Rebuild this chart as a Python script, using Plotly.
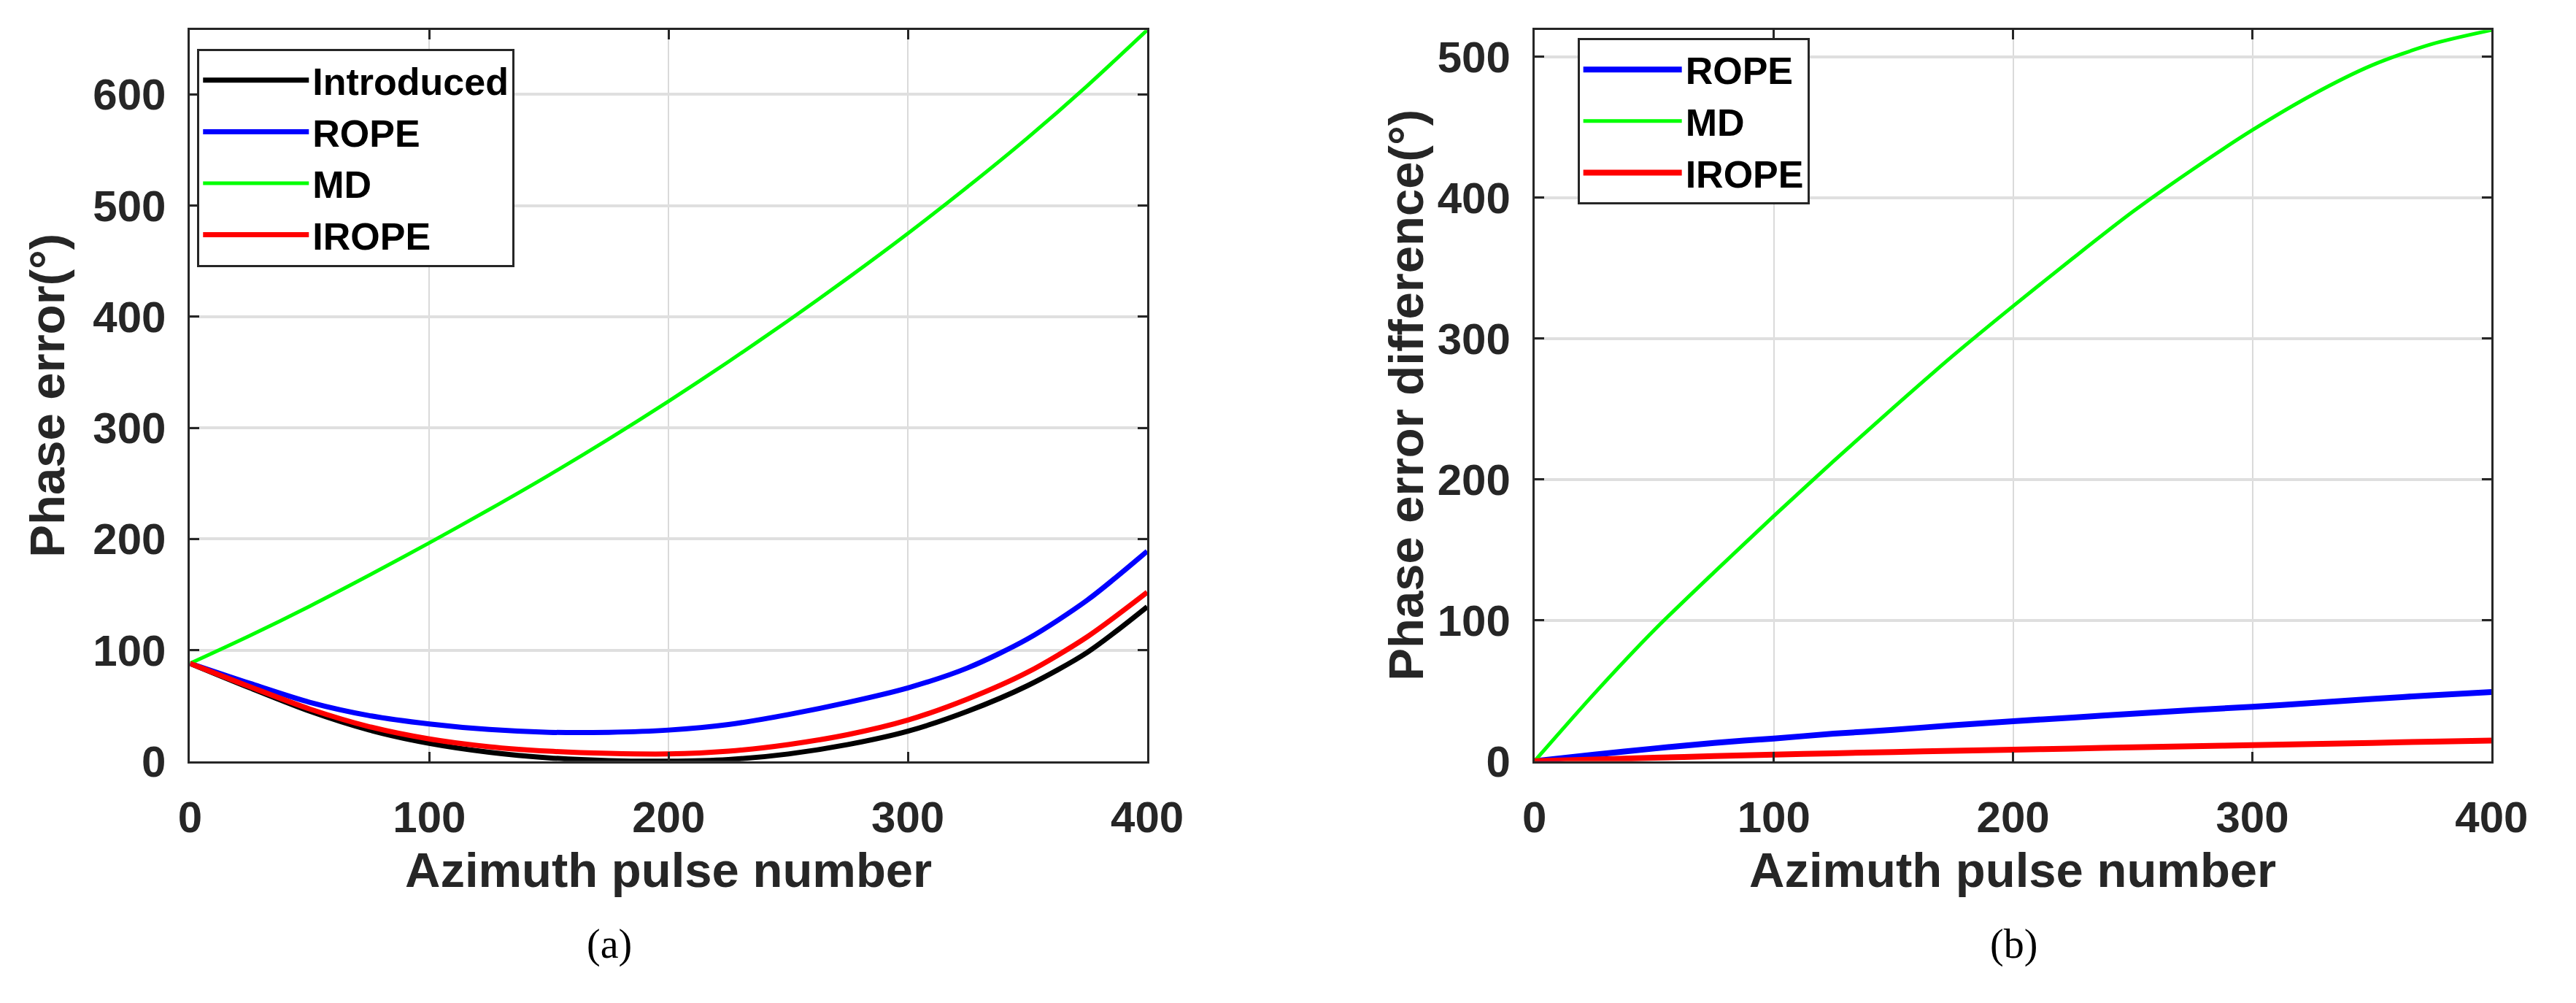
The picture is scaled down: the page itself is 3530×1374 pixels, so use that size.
import plotly.graph_objects as go

# ---------------- data ----------------
pulse = [0, 25, 50, 75, 100, 125, 150, 175, 200, 225, 250, 275, 300, 325, 350, 375, 400]

# (a) Phase error
a_introduced = [88, 66, 45, 28, 16, 8, 3, 0.5, 0, 1.5, 6.5, 15, 27, 45, 68, 98, 139]
a_rope = [88, 70, 53, 41, 33.5, 28.5, 26, 26, 28, 33, 42, 53, 66, 84, 110, 145, 189]
a_md = [88, 113, 139.5, 167.5, 196.5, 226.5, 257.5, 290, 324, 359.5, 396.5, 435, 475, 517, 561, 608, 658]
a_irope = [88, 67, 47, 31, 20, 13, 9, 7, 6.5, 9, 15, 24, 37, 56, 80, 112, 152]

# (b) Phase error difference
b_rope = [0, 4.7, 9, 13, 16.1, 19.5, 22.3, 25.5, 28.4, 31, 33.7, 36.3, 38.6, 41.3, 44.2, 46.8, 49.1]
b_md = [0, 48, 93, 134, 174, 213, 251, 288, 323, 357, 390, 420, 448, 473, 494, 509, 519]
b_irope = [0, 1.2, 2.4, 3.6, 4.7, 5.6, 6.5, 7.4, 8.2, 9, 9.8, 10.6, 11.4, 12.2, 13, 13.9, 14.7]

x_ticks = [0, 100, 200, 300, 400]
a_yticks = [0, 100, 200, 300, 400, 500, 600]
b_yticks = [0, 100, 200, 300, 400, 500]

names_a = ["Introduced", "ROPE", "MD", "IROPE"]
names_b = ["ROPE", "MD", "IROPE"]

# ---------------- style ----------------
W, H = 3530, 1374
BLACK, BLUE, GREEN, RED = "#000000", "#0000ff", "#00ff00", "#ff0000"
AXC = "#262626"
SANS = "Liberation Sans, Arial, sans-serif"
SERIF = "Liberation Serif, Times New Roman, serif"

fig = go.Figure()

series_a = [(names_a[0], a_introduced, BLACK, 7), (names_a[1], a_rope, BLUE, 7),
            (names_a[2], a_md, GREEN, 5), (names_a[3], a_irope, RED, 7)]
for nm, ys, c, w in series_a:
    fig.add_trace(go.Scatter(x=pulse, y=ys, name=nm, mode="lines",
                             line=dict(color=c, width=w, shape="spline", smoothing=0.8),
                             xaxis="x", yaxis="y", legend="legend"))

series_b = [(names_b[0], b_rope, BLUE, 8), (names_b[1], b_md, GREEN, 5),
            (names_b[2], b_irope, RED, 8)]
for nm, ys, c, w in series_b:
    fig.add_trace(go.Scatter(x=pulse, y=ys, name=nm, mode="lines",
                             line=dict(color=c, width=w, shape="spline", smoothing=0.8),
                             xaxis="x2", yaxis="y2", legend="legend2"))

ydom = [1 - 1061 / H, 1 - 34 / H]
xdom1 = [240 / W, 1577 / W]
xdom2 = [2118 / W, 3455 / W]

tickfont = dict(family=SANS, size=60, color=AXC, weight="bold")


def xax(dom, anchor):
    return dict(domain=dom, anchor=anchor, range=[0, 400], tickvals=x_ticks,
                showline=True, linecolor=AXC, linewidth=3, mirror="allticks",
                ticks="inside", ticklen=13, tickwidth=3, tickcolor=AXC,
                showgrid=True, gridcolor="#dadada", gridwidth=2, zeroline=False,
                tickfont=tickfont, ticklabelstandoff=22)


def yax(dom, anchor, rng, tv):
    return dict(domain=dom, anchor=anchor, range=rng, tickvals=tv,
                showline=True, linecolor=AXC, linewidth=3, mirror="allticks",
                ticks="inside", ticklen=13, tickwidth=3, tickcolor=AXC,
                showgrid=True, gridcolor="#dfdfdf", gridwidth=4, zeroline=False,
                tickfont=tickfont, ticklabelstandoff=18)


legfont = dict(family=SANS, size=52, color="#000000", weight="bold")

fig.update_layout(
    width=W, height=H,
    margin=dict(l=0, r=0, t=0, b=0),
    paper_bgcolor="white", plot_bgcolor="white",
    xaxis=xax(xdom1, "y"),
    yaxis=yax(ydom, "x", [0, 658], a_yticks),
    xaxis2=xax(xdom2, "y2"),
    yaxis2=yax(ydom, "x2", [0, 519], b_yticks),
    legend=dict(x=250 / W, y=1 - 60 / H, xanchor="left", yanchor="top",
                bgcolor="white", bordercolor=AXC, borderwidth=3,
                font=legfont, itemwidth=145, tracegroupgap=0),
    legend2=dict(x=2178 / W, y=1 - 45 / H, xanchor="left", yanchor="top",
                 bgcolor="white", bordercolor=AXC, borderwidth=3,
                 font=legfont, itemwidth=135, tracegroupgap=0),
    showlegend=True,
)

titlefont = dict(family=SANS, size=67, color=AXC, weight="bold")
ymid = 1 - 547 / H
fig.add_annotation(text="Phase error(°)", x=40 / W, y=ymid, xref="paper", yref="paper",
                   textangle=-90, showarrow=False, font=titlefont,
                   xanchor="center", yanchor="middle")
fig.add_annotation(text="Phase error difference(°)", x=1938 / W, y=ymid, xref="paper",
                   yref="paper", textangle=-90, showarrow=False, font=titlefont,
                   xanchor="center", yanchor="middle")
fig.add_annotation(text="Azimuth pulse number", x=908 / W, y=1 - 1214 / H, xref="paper",
                   yref="paper", showarrow=False, font=titlefont,
                   xanchor="center", yanchor="middle")
fig.add_annotation(text="Azimuth pulse number", x=2786 / W, y=1 - 1214 / H, xref="paper",
                   yref="paper", showarrow=False, font=titlefont,
                   xanchor="center", yanchor="middle")

capfont = dict(family=SERIF, size=56, color="#000000")
fig.add_annotation(text="(a)", x=826 / W, y=1 - 1318 / H, xref="paper", yref="paper",
                   showarrow=False, font=capfont, xanchor="center", yanchor="middle")
fig.add_annotation(text="(b)", x=2787 / W, y=1 - 1318 / H, xref="paper", yref="paper",
                   showarrow=False, font=capfont, xanchor="center", yanchor="middle")

fig.write_html("out.html")
